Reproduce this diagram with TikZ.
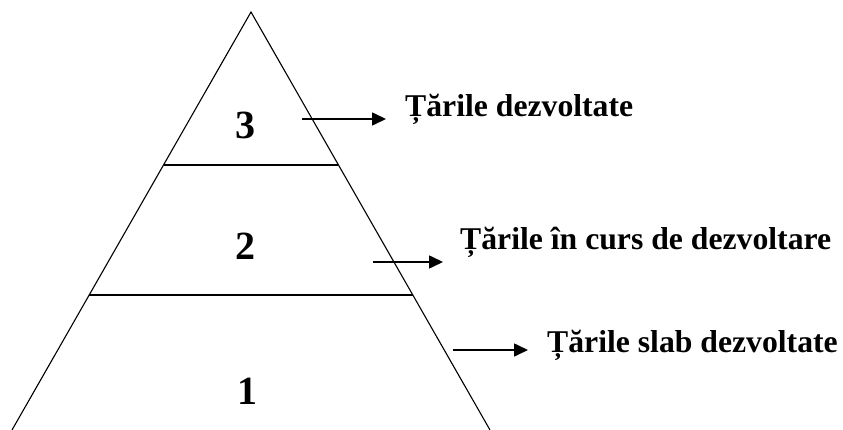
\documentclass[tikz,border=0pt]{standalone}
\usepackage{fontspec}
\setmainfont{Liberation Serif}
\usetikzlibrary{arrows.meta}
\begin{document}
\begin{tikzpicture}[x=1pt,y=-1pt,
  edge/.style={line width=1.1pt},
  level/.style={inner sep=0pt,font=\fontsize{40}{40}\selectfont\bfseries},
  label/.style={inner sep=0pt,anchor=base west,font=\fontsize{31.7}{32}\selectfont\bfseries},
  pointer/.style={line width=1.6pt,-{Triangle[length=14pt,width=13pt]}}]
\useasboundingbox (0,0) rectangle (843,430);
\coordinate (apex) at (251,12);
\coordinate (bl) at (12,430);
\coordinate (br) at (490,430);
\draw[edge] (bl) -- (apex) -- (br);
\coordinate (l1a) at (164,165);
\coordinate (l1b) at (338,165);
\coordinate (l2a) at (89,295);
\coordinate (l2b) at (413,295);
\draw[edge] (l1a) -- (l1b);
\draw[edge] (l2a) -- (l2b);
\node[level] (n3) at (245,125.5) {3};
\node[level] (n2) at (245,246) {2};
\node[level] (n1) at (247,391.5) {1};
\node[label] (t3) at (405,117) {Țările dezvoltate};
\node[label] (t2) at (460,250) {Țările în curs de dezvoltare};
\node[label] (t1) at (547,352) {Țările slab dezvoltate};
\coordinate (a3s) at (302,119);
\coordinate (a3e) at (386,119);
\coordinate (a2s) at (373,262);
\coordinate (a2e) at (443,262);
\coordinate (a1s) at (453,350);
\coordinate (a1e) at (528,350);
\draw[pointer] (a3s) -- (a3e);
\draw[pointer] (a2s) -- (a2e);
\draw[pointer] (a1s) -- (a1e);
\end{tikzpicture}
\end{document}
